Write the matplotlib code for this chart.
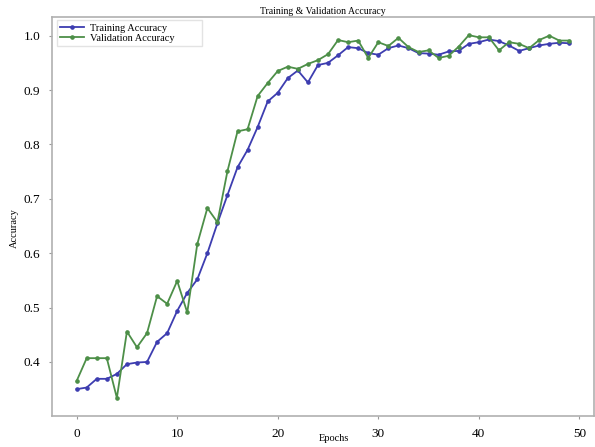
"""Training & validation accuracy curves per epoch."""

import matplotlib
matplotlib.use("Agg")
import matplotlib.pyplot as plt
import numpy as np

epochs = np.arange(50)

train_acc = [
    0.350, 0.353, 0.369, 0.369, 0.378, 0.396, 0.399, 0.400, 0.437, 0.453,
    0.494, 0.527, 0.552, 0.600, 0.655, 0.707, 0.758, 0.790, 0.832, 0.879,
    0.895, 0.922, 0.936, 0.914, 0.946, 0.950, 0.964, 0.979, 0.977, 0.968,
    0.965, 0.977, 0.982, 0.977, 0.968, 0.967, 0.965, 0.971, 0.972, 0.985,
    0.988, 0.993, 0.990, 0.982, 0.972, 0.977, 0.982, 0.985, 0.987, 0.986,
]
val_acc = [
    0.365, 0.407, 0.407, 0.407, 0.334, 0.456, 0.427, 0.453, 0.521, 0.507,
    0.549, 0.491, 0.617, 0.683, 0.657, 0.751, 0.824, 0.828, 0.889, 0.913,
    0.935, 0.943, 0.939, 0.948, 0.955, 0.966, 0.992, 0.988, 0.991, 0.959,
    0.988, 0.981, 0.996, 0.979, 0.970, 0.973, 0.959, 0.963, 0.980, 1.001,
    0.997, 0.997, 0.973, 0.988, 0.985, 0.977, 0.992, 1.000, 0.991, 0.991,
]

plt.rcParams["font.family"] = ["Liberation Serif", "DejaVu Serif"]

fig = plt.figure(figsize=(5.95, 4.47), dpi=100)
ax = fig.add_axes([52 / 595, 1 - 416 / 447, 542 / 595, 399 / 447])

ax.plot(epochs, train_acc, color="#3d3db0", marker="o", markersize=2.3,
        linewidth=1.3, label="Training Accuracy")
ax.plot(epochs, val_acc, color="#4d8f48", marker="o", markersize=2.3,
        linewidth=1.3, label="Validation Accuracy")

ax.set_xticks([0, 10, 20, 30, 40, 50])
ax.set_yticks([0.4, 0.5, 0.6, 0.7, 0.8, 0.9, 1.0])
ax.tick_params(labelsize=9.5, color="#999999", length=2.5, width=0.8, pad=6)
for s in ax.spines.values():
    s.set_color("#b0b0b0")
    s.set_linewidth(1.2)

ax.set_title("Training & Validation Accuracy", fontsize=7, pad=2)
ax.set_xlabel("Epochs", fontsize=7.5)
ax.xaxis.set_label_coords(0.52, -0.045)
ax.set_ylabel("Accuracy", fontsize=7.5)
ax.yaxis.set_label_coords(-0.062, 0.47)

ax.legend(loc="upper left", bbox_to_anchor=(0.009, 0.992, 0.268, 0),
          mode="expand", fontsize=7.5, frameon=True, borderpad=0.3,
          handlelength=2.3, handletextpad=0.6, labelspacing=0.1,
          borderaxespad=0.0, fancybox=False, edgecolor="#dddddd")

fig.savefig("out.png", dpi=100)
